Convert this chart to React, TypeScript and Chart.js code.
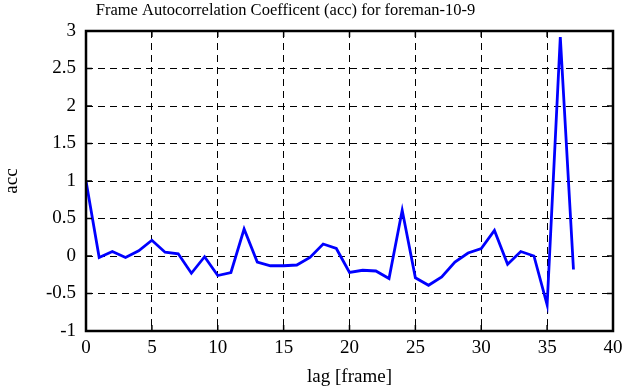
import React, { useEffect, useRef } from "react";
import { Chart, registerables } from "chart.js";

Chart.register(...registerables);

const lags: number[] = [0, 1, 2, 3, 4, 5, 6, 7, 8, 9, 10, 11, 12, 13, 14, 15, 16, 17, 18, 19, 20, 21, 22, 23, 24, 25, 26, 27, 28, 29, 30, 31, 32, 33, 34, 35, 36, 37];
const acc: number[] = [1.0, -0.02, 0.06, -0.02, 0.07, 0.21, 0.05, 0.03, -0.23, -0.01, -0.26, -0.22, 0.36, -0.08, -0.13, -0.13, -0.12, -0.02, 0.16, 0.1, -0.22, -0.19, -0.2, -0.3, 0.61, -0.29, -0.39, -0.28, -0.08, 0.04, 0.1, 0.34, -0.11, 0.06, 0.0, -0.65, 2.92, -0.18];

const titleText = "Frame Autocorrelation Coefficent (acc) for foreman-10-9";
const xLabel = "lag [frame]";
const yLabel = "acc";
const xMin = 0, xMax = 40, xStep = 5;
const yMin = -1, yMax = 3, yStep = 0.5;

const FONT = "'Liberation Serif', 'Times New Roman', serif";

const titlePlugin = {
  id: "matlabTitle",
  afterDraw(chart: any) {
    const { ctx } = chart;
    ctx.save();
    ctx.fillStyle = "#000";
    ctx.font = `16.5px ${FONT}`;
    ctx.textAlign = "center";
    ctx.textBaseline = "middle";
    ctx.fillText(titleText, 285.5, 11);
    ctx.restore();
  },
};

const boxPlugin = {
  id: "matlabBox",
  afterDraw(chart: any) {
    const { ctx, chartArea } = chart;
    const { left, right, top, bottom } = chartArea;
    ctx.save();
    ctx.strokeStyle = "#000";
    ctx.lineWidth = 1.5;
    const tl = 6;
    const xs = chart.scales.x;
    const ys = chart.scales.y;
    ctx.beginPath();
    xs.ticks.forEach((t: any) => {
      const px = xs.getPixelForValue(t.value);
      ctx.moveTo(px, bottom);
      ctx.lineTo(px, bottom - tl);
      ctx.moveTo(px, top);
      ctx.lineTo(px, top + tl);
    });
    ys.ticks.forEach((t: any) => {
      const py = ys.getPixelForValue(t.value);
      ctx.moveTo(left, py);
      ctx.lineTo(left + tl, py);
      ctx.moveTo(right, py);
      ctx.lineTo(right - tl, py);
    });
    ctx.stroke();
    ctx.lineWidth = 2.5;
    ctx.strokeRect(left, top, right - left, bottom - top);
    ctx.restore();
  },
};

export default function App() {
  const ref = useRef<HTMLCanvasElement | null>(null);
  useEffect(() => {
    if (!ref.current) return;
    const chart = new Chart(ref.current, {
      type: "line",
      data: {
        datasets: [
          {
            data: lags.map((l, i) => ({ x: l, y: acc[i] })),
            borderColor: "#0000ff",
            borderWidth: 2.8,
            pointRadius: 0,
            tension: 0,
            fill: false,
          },
        ],
      },
      options: {
        animation: false,
        responsive: false,
        devicePixelRatio: 1,
        layout: { padding: { left: 0, right: 22, top: 31, bottom: 0 } },
        plugins: {
          legend: { display: false },
          tooltip: { enabled: false },
          title: { display: false },
        },
        scales: {
          x: {
            type: "linear",
            min: xMin,
            max: xMax,
            ticks: {
              stepSize: xStep,
              color: "#000",
              font: { family: FONT, size: 19 },
              padding: 6,
              maxRotation: 0,
              callback: (v: any) => String(v),
            },
            grid: { color: "#000", lineWidth: 1, drawTicks: false },
            border: { display: false, dash: [7, 5] },
            title: {
              display: true,
              text: xLabel,
              color: "#000",
              font: { family: FONT, size: 19, lineHeight: 1 },
              padding: { top: 0, bottom: 0 },
            },
            afterFit: (s: any) => {
              s.height = 56;
            },
          },
          y: {
            type: "linear",
            min: yMin,
            max: yMax,
            ticks: {
              stepSize: yStep,
              color: "#000",
              font: { family: FONT, size: 19 },
              padding: 10,
              callback: (v: any) => String(v),
            },
            grid: { color: "#000", lineWidth: 1, drawTicks: false },
            border: { display: false, dash: [7, 5] },
            title: {
              display: true,
              text: yLabel,
              color: "#000",
              font: { family: FONT, size: 19, lineHeight: 1 },
              padding: { top: 3, bottom: 0 },
            },
            afterFit: (s: any) => {
              s.width = 86;
            },
          },
        },
      },
      plugins: [boxPlugin, titlePlugin],
    } as any);
    return () => chart.destroy();
  }, []);
  return (
    <div style={{ position: "absolute", left: 0, top: 0, width: 635, height: 387, background: "#fff" }}>
      <canvas ref={ref} width={635} height={387} />
    </div>
  );
}
